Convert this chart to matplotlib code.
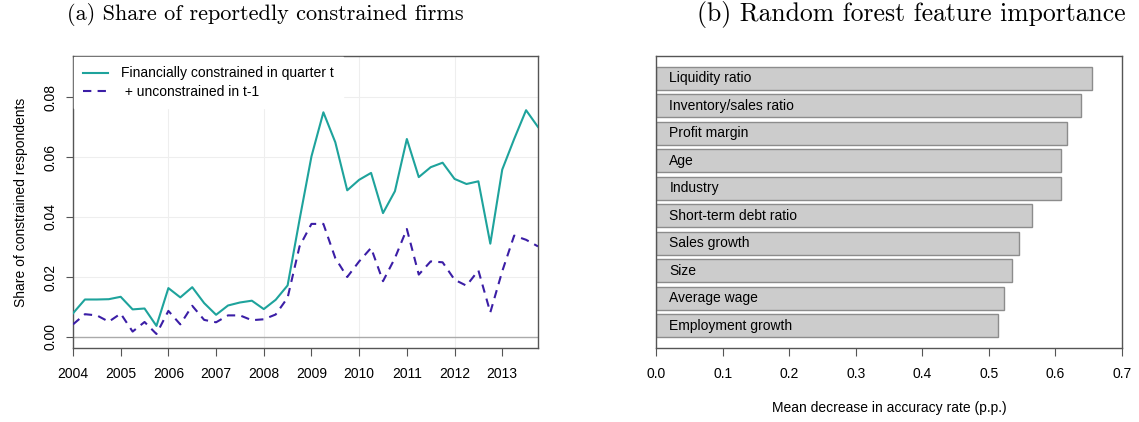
import numpy as np
import matplotlib
matplotlib.use("Agg")
import matplotlib.pyplot as plt
from matplotlib.lines import Line2D

# ---------------- data ----------------
quarters = [2004 + 0.25 * k for k in range(40)]
constrained = [0.0079, 0.0125, 0.0125, 0.0126, 0.0134, 0.0092, 0.0095, 0.0037,
               0.0163, 0.0132, 0.0166, 0.0113, 0.0074, 0.0105, 0.0115, 0.0121,
               0.0093, 0.0124, 0.0172, 0.0391, 0.0602, 0.0749, 0.0649, 0.0489,
               0.0524, 0.0547, 0.0413, 0.0486, 0.0660, 0.0533, 0.0566, 0.0581,
               0.0527, 0.0510, 0.0519, 0.0311, 0.0558, 0.0660, 0.0756, 0.0700]
constrained_prev = [0.0042, 0.0076, 0.0072, 0.0051, 0.0078, 0.0018, 0.0050, 0.0010,
                    0.0087, 0.0042, 0.0104, 0.0057, 0.0049, 0.0072, 0.0072, 0.0056,
                    0.0059, 0.0075, 0.0131, 0.0302, 0.0377, 0.0377, 0.0263, 0.0200,
                    0.0252, 0.0297, 0.0186, 0.0263, 0.0360, 0.0208, 0.0252, 0.0249,
                    0.0191, 0.0171, 0.0222, 0.0082, 0.0219, 0.0338, 0.0324, 0.0302]
year_ticks = list(range(2004, 2014))
y_ticks = [0.00, 0.02, 0.04, 0.06, 0.08]

features = ["Liquidity ratio", "Inventory/sales ratio", "Profit margin", "Age",
            "Industry", "Short-term debt ratio", "Sales growth", "Size",
            "Average wage", "Employment growth"]
importance = [0.655, 0.639, 0.618, 0.608, 0.608, 0.565, 0.545, 0.535, 0.522, 0.513]
imp_ticks = [0.0, 0.1, 0.2, 0.3, 0.4, 0.5, 0.6, 0.7]

# ---------------- style ----------------
plt.rcParams['font.family'] = ['Liberation Sans', 'DejaVu Sans']
teal = '#1ea39c'
purple = '#3b1ea6'
boxcol = '#555555'

W, H = 1139, 422
fig = plt.figure(figsize=(W / 100, H / 100), dpi=100)

def fx(px):
    return px / W

def fy(py):
    return 1 - py / H

# ---------------- panel (a) ----------------
ax1 = fig.add_axes([fx(73), fy(348), fx(538) - fx(73), fy(56) - fy(348)])
ax1.set_xlim(2004, 2013.75)
ax1.set_ylim(-0.00367, 0.09367)
for x in [2006, 2008, 2010, 2012]:
    ax1.axvline(x, color='#eeeeee', lw=0.8, zorder=0)
for y in [0.02, 0.04, 0.06, 0.08]:
    ax1.axhline(y, color='#eeeeee', lw=0.8, zorder=0)
ax1.axhline(0, color='#aaaaaa', lw=1.0, zorder=1)
ax1.plot(quarters, constrained, color=teal, lw=1.5, zorder=3)
ax1.plot(quarters, constrained_prev, color=purple, lw=1.5, ls=(0, (4, 3)), zorder=3)
ax1.set_xticks(year_ticks)
ax1.set_xticklabels([str(y) for y in year_ticks], fontsize=10)
ax1.set_yticks(y_ticks)
ax1.set_yticklabels(["%.2f" % v for v in y_ticks], fontsize=10, rotation=90, va='center')
ax1.tick_params(axis='x', length=6, width=0.8, color=boxcol, pad=8)
ax1.tick_params(axis='y', length=5, width=0.8, color=boxcol, pad=6)
for s in ax1.spines.values():
    s.set_color(boxcol)
    s.set_linewidth(1.0)
ax1.set_ylabel("Share of constrained respondents", fontsize=10, labelpad=11)
handles = [Line2D([], [], color=teal, lw=1.5),
           Line2D([], [], color=purple, lw=1.5, ls=(0, (4, 3)))]
leg = ax1.legend(handles, ["Financially constrained in quarter t", " + unconstrained in t-1"],
                 loc='upper left', bbox_to_anchor=(0, 1), borderaxespad=0.1,
                 frameon=True, fancybox=False, framealpha=1, facecolor='white',
                 edgecolor='white', fontsize=10, handlelength=1.8,
                 handletextpad=0.9, labelspacing=0.3, borderpad=0.65)
leg.set_zorder(5)

# ---------------- panel (b) ----------------
ax2 = fig.add_axes([fx(656), fy(348), fx(1122) - fx(656), fy(56) - fy(348)])
n = len(features)
pos = [0.7 + 1.2 * (n - 1 - i) for i in range(n)]
ax2.barh(pos, importance, height=1.0, color='#cccccc', edgecolor='#8c8c8c', lw=1.0, zorder=2)
for p, f in zip(pos, features):
    ax2.text(0.02, p, f, fontsize=10, va='center', ha='left', zorder=3)
ax2.set_xlim(0, 0.7)
ax2.set_ylim(-0.28, 12.48)
ax2.set_yticks([])
ax2.set_xticks(imp_ticks)
ax2.set_xticklabels(["%.1f" % v for v in imp_ticks], fontsize=10)
ax2.tick_params(axis='x', length=6, width=0.8, color=boxcol, pad=8)
for s in ax2.spines.values():
    s.set_color(boxcol)
    s.set_linewidth(1.0)
ax2.set_xlabel("Mean decrease in accuracy rate (p.p.)", fontsize=10, labelpad=14)

# ---------------- titles ----------------
fig.text(fx(265), fy(15), "(a) Share of reportedly constrained firms",
         fontfamily='cmr10', fontsize=16, ha='center', va='center')
fig.text(fx(911), fy(15), "(b) Random forest feature importance",
         fontfamily='cmr10', fontsize=18.5, ha='center', va='center')

fig.savefig("out.png", dpi=100)
